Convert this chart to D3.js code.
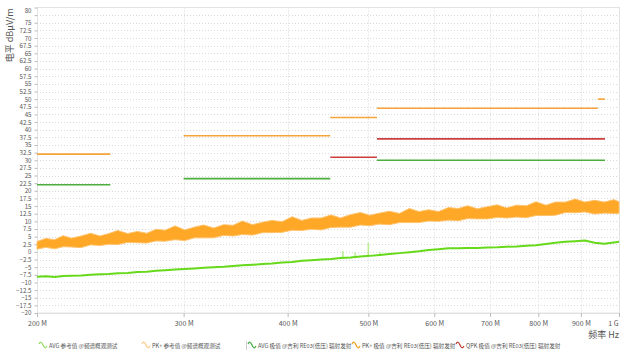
<!DOCTYPE html>
<html>
<head>
<meta charset="utf-8">
<script src="https://cdn.jsdelivr.net/npm/d3@7"></script>
<style>
  body { margin: 0; background: #fff; }
  text { font-family: "Noto Sans CJK SC", "Noto Sans", sans-serif; fill: #555; }
</style>
</head>
<body>
<div id="chart"></div>
<script>
// trace frequencies (MHz)
var freqs = [200,205,210,215,220,226,232,238,244,250,257,264,271,278,285,293,301,309,317,326,
  335,344,353,363,373,383,394,405,416,427,439,451,463,476,489,502,516,530,545,560,
  575,591,607,624,641,658,676,695,714,733,753,774,795,817,839,862,886,910,935,960,986,1000];

// PK+ reference trace, lower / upper envelope (dBµV/m)
var pkLo = [0.9,1.5,1.0,1.7,1.6,1.4,2.3,2.1,2.5,2.4,3.1,3.0,2.9,3.6,3.5,4.0,3.7,4.6,4.6,4.6,
  5.4,5.2,5.7,5.5,6.3,6.3,6.4,7.1,7.0,7.4,7.2,8.0,8.1,8.1,8.8,8.6,9.1,8.9,9.6,9.6,
  9.6,10.1,10.0,10.4,10.2,10.9,10.8,10.8,11.3,11.1,11.4,11.2,11.9,11.9,12.0,12.9,12.8,13.1,12.4,12.7,12.6,12.6];
var pkHi = [3.4,4.4,4.0,5.3,4.5,5.2,6.1,5.2,6.0,7.0,6.0,6.7,6.1,7.4,7.1,8.5,7.2,8.1,8.8,7.8,
  8.9,8.7,10.1,8.9,9.7,10.3,9.9,11.5,10.3,11.1,11.1,12.1,11.1,12.2,12.9,12.0,12.7,13.3,12.6,14.2,
  13.2,13.8,13.2,14.5,14.2,15.1,14.1,14.8,15.4,14.4,15.3,15.1,16.4,15.3,16.3,16.3,17.3,16.3,16.9,16.3,17.1,16.4];

// AVG reference trace
var avgRef = [-8.1,-8.0,-8.2,-7.9,-7.8,-7.7,-7.5,-7.3,-7.2,-7.0,-6.9,-6.6,-6.5,-6.2,-6.0,-5.8,-5.6,-5.4,-5.2,-5.0,
  -4.9,-4.6,-4.4,-4.2,-4.0,-3.8,-3.5,-3.3,-2.9,-2.7,-2.5,-2.3,-2.0,-1.8,-1.5,-1.3,-1.0,-0.7,-0.4,-0.1,
  0.2,0.6,0.9,1.2,1.2,1.3,1.3,1.4,1.5,1.7,1.8,2.0,2.2,2.6,3.0,3.3,3.5,3.7,3.0,2.7,3.1,3.3];

// isolated spikes on the AVG trace: frequency, base, top
var spikeFreqs = [466, 482, 500, 516];
var spikeBases = [-2.0, -1.7, -1.3, -1.0];
var spikeTops = [0.3, -0.2, 3.0, 0.0];

// limit segments: [start MHz, end MHz, level]
var pkLimit = [[200, 245, 32], [300, 450, 38], [450, 512, 44], [512, 943, 47], [943, 962, 50]];
var avgLimit = [[200, 245, 22], [300, 450, 24], [512, 962, 30]];
var qpkLimit = [[450, 512, 31], [512, 962, 37]];

var xTicks = [200, 300, 400, 500, 600, 700, 800, 900, 1000];
var xTickLabels = ['200 M', '300 M', '400 M', '500 M', '600 M', '700 M', '800 M', '900 M', '1 G'];
var yTicks = d3.range(-20, 80.01, 2.5);

var legendItems = [
  { label: 'AVG 参考值 @频谱概观测试', color: '#8fdc5a' },
  { label: 'PK+ 参考值 @频谱概观测试', color: '#ffc880' },
  { label: 'AVG 极值 @吉利 RE03(低压) 辐射发射', color: '#3cab3c' },
  { label: 'PK+ 极值 @吉利 RE03(低压) 辐射发射', color: '#f39c12' },
  { label: 'QPK 极值 @吉利 RE03(低压) 辐射发射', color: '#c0392b' }
];
var legendX = [39, 142, 248, 352, 456];

var width = 631, height = 360;
var plotLeft = 37, plotRight = 619, plotTop = 7.5, plotBottom = 313;

var svg = d3.select('#chart').append('svg')
  .attr('width', width)
  .attr('height', height);

var x = d3.scaleLog().domain([200, 1000]).range([plotLeft, plotRight]);
var y = d3.scaleLinear().domain([-20, 80]).range([plotBottom, plotTop]);

// grid
svg.append('g').selectAll('line')
  .data(yTicks.filter(function(d) { return d > -20 && d < 80; }))
  .enter().append('line')
  .attr('x1', plotLeft).attr('x2', plotRight)
  .attr('y1', function(d) { return Math.round(y(d)) + 0.5; })
  .attr('y2', function(d) { return Math.round(y(d)) + 0.5; })
  .attr('stroke', '#d8d8d8')
  .attr('stroke-dasharray', '1,2');

svg.append('g').selectAll('line')
  .data(xTicks.slice(1, -1))
  .enter().append('line')
  .attr('x1', function(d) { return Math.round(x(d)) + 0.5; })
  .attr('x2', function(d) { return Math.round(x(d)) + 0.5; })
  .attr('y1', plotTop).attr('y2', plotBottom)
  .attr('stroke', '#d8d8d8')
  .attr('stroke-dasharray', '1,2');

// frame
svg.append('rect')
  .attr('x', plotLeft + 0.5).attr('y', plotTop)
  .attr('width', plotRight - plotLeft).attr('height', plotBottom - plotTop)
  .attr('fill', 'none')
  .attr('stroke', '#e2e2e2');

// y axis
var yAxis = svg.append('g')
  .attr('transform', 'translate(' + (plotLeft + 0.5) + ',0)')
  .call(d3.axisLeft(y).tickValues(yTicks).tickSize(3).tickPadding(3)
    .tickFormat(function(d) { return d === 77.5 ? '' : d3.format('')(d); }));
yAxis.select('.domain').remove();
yAxis.selectAll('line').attr('stroke', '#bbb');
yAxis.selectAll('text').attr('font-size', 6.2).attr('fill', '#555')
  .attr('dy', function(d) { return d === 80 ? '0.8em' : '0.32em'; });

// x axis
var xAxis = svg.append('g')
  .attr('transform', 'translate(0,' + plotBottom + ')')
  .call(d3.axisBottom(x).tickValues(xTicks).tickSize(4).tickPadding(4)
    .tickFormat(function(d, i) { return xTickLabels[i]; }));
xAxis.select('.domain').attr('stroke', '#e2e2e2');
xAxis.selectAll('line').attr('stroke', '#bbb');
xAxis.selectAll('text').attr('font-size', 7).attr('fill', '#555')
  .attr('dx', function(d) { return d === 1000 ? -6 : 0; });

// axis titles
svg.append('text')
  .attr('transform', 'translate(13,' + (plotTop + 1) + ')rotate(-90)')
  .attr('text-anchor', 'end')
  .attr('font-size', 9)
  .text('电平 dBμV/m');

svg.append('text')
  .attr('x', plotRight).attr('y', 338)
  .attr('text-anchor', 'end')
  .attr('font-size', 9)
  .text('频率 Hz');

var plot = svg.append('g');

// PK+ reference band
var band = freqs.map(function(f, i) { return { f: f, lo: pkLo[i], hi: pkHi[i] }; });
plot.append('path')
  .datum(band)
  .attr('fill', '#ffa726')
  .attr('stroke', '#ffc36b')
  .attr('stroke-width', 1)
  .attr('d', d3.area()
    .x(function(d) { return x(d.f); })
    .y0(function(d) { return y(d.lo); })
    .y1(function(d) { return y(d.hi); }));

// AVG reference trace
plot.append('g').selectAll('line')
  .data(spikeFreqs)
  .enter().append('line')
  .attr('x1', function(d) { return x(d); })
  .attr('x2', function(d) { return x(d); })
  .attr('y1', function(d, i) { return y(spikeTops[i]); })
  .attr('y2', function(d, i) { return y(spikeBases[i]); })
  .attr('stroke', '#b8ec8c')
  .attr('stroke-width', 1.5);

plot.append('path')
  .datum(freqs.map(function(f, i) { return [f, avgRef[i]]; }))
  .attr('fill', 'none')
  .attr('stroke', '#66d91a')
  .attr('stroke-width', 2)
  .attr('d', d3.line()
    .x(function(d) { return x(d[0]); })
    .y(function(d) { return y(d[1]); }));

// limits
function drawLimit(segs, color) {
  plot.append('g').selectAll('line')
    .data(segs)
    .enter().append('line')
    .attr('x1', function(d) { return x(d[0]); })
    .attr('x2', function(d) { return x(d[1]); })
    .attr('y1', function(d) { return y(d[2]); })
    .attr('y2', function(d) { return y(d[2]); })
    .attr('stroke', color)
    .attr('stroke-width', 1.6);
}
drawLimit(avgLimit, '#4cae3c');
drawLimit(qpkLimit, '#cc3f3f');
drawLimit(pkLimit, '#f5a43a');

// legend
var legend = svg.append('g');
legendItems.forEach(function(item, i) {
  var g = legend.append('g').attr('transform', 'translate(' + legendX[i] + ',346)');
  g.append('path')
    .attr('d', 'M0,-2 Q2,-6 4,-1 T8,0')
    .attr('fill', 'none')
    .attr('stroke', item.color)
    .attr('stroke-width', 1.2);
  g.append('text')
    .attr('x', 10).attr('y', 2)
    .attr('font-size', 5.6)
    .attr('fill', '#666')
    .text(item.label);
});
svg.append('line')
  .attr('x1', 246.5).attr('x2', 246.5)
  .attr('y1', 341).attr('y2', 350)
  .attr('stroke', '#ccc');
</script>
</body>
</html>
